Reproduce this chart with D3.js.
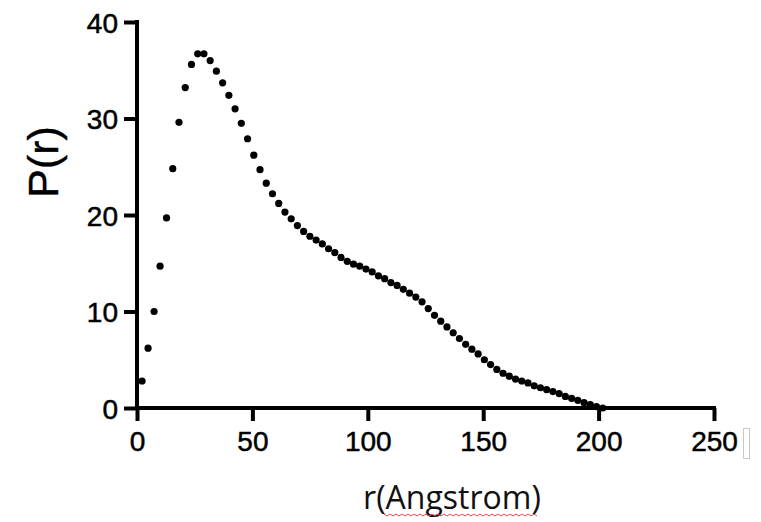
<!DOCTYPE html>
<html>
<head>
<meta charset="utf-8">
<script src="https://cdn.jsdelivr.net/npm/d3@7"></script>
<style>
  body { margin: 0; background: #fff; }
  svg { display: block; }
</style>
</head>
<body>
<div id="wrapper"></div>
<script>
// distance r (Angstrom)
const rValues = [
  2.2, 4.8, 7.4, 10.0, 12.8, 15.5, 18.2, 20.9, 23.6, 26.3,
  29.0, 31.7, 34.4, 37.1, 39.8, 42.5, 45.2, 47.9, 50.6, 53.3,
  56.0, 58.7, 61.4, 64.1, 66.8, 69.5, 72.2, 74.9, 77.6, 80.3,
  83.0, 85.7, 88.4, 91.1, 93.8, 96.5, 99.2, 101.9, 104.6, 107.3,
  110.0, 112.7, 115.4, 118.1, 120.8, 123.5, 126.2, 128.9, 131.6, 134.3,
  137.0, 139.7, 142.4, 145.1, 147.8, 150.5, 153.2, 155.9, 158.6, 161.3,
  164.0, 166.7, 169.4, 172.1, 174.8, 177.5, 180.2, 182.9, 185.6, 188.3,
  191.0, 193.7, 196.4, 199.1, 201.8,
]
// P(r) values
const pValues = [
  2.8, 6.2, 10.0, 14.7, 19.7, 24.8, 29.6, 33.2, 35.6, 36.7,
  36.7, 36.0, 34.9, 33.7, 32.4, 31.0, 29.5, 27.9, 26.2, 24.7,
  23.3, 22.2, 21.2, 20.3, 19.6, 18.9, 18.3, 17.8, 17.4, 17.0,
  16.5, 16.1, 15.6, 15.2, 14.9, 14.7, 14.4, 14.1, 13.7, 13.4,
  13.0, 12.7, 12.3, 11.9, 11.5, 11.0, 10.3, 9.6, 9.0, 8.4,
  7.8, 7.2, 6.6, 6.1, 5.6, 5.0, 4.5, 4.0, 3.6, 3.3,
  3.0, 2.8, 2.6, 2.3, 2.1, 1.9, 1.7, 1.5, 1.2, 1.0,
  0.8, 0.55, 0.35, 0.15, 0.0,
]
const xTicks = [0, 50, 100, 150, 200, 250]
const yTicks = [0, 10, 20, 30, 40]

function drawChart() {
  const dataset = rValues.map((r, i) => ({ r, p: pValues[i] }))
  const xAccessor = (d) => d.r
  const yAccessor = (d) => d.p

  let dimensions = {
    width: 761,
    height: 522,
    margin: { top: 22, right: 47, bottom: 114, left: 137 },
  }
  dimensions.boundedWidth = dimensions.width - dimensions.margin.left - dimensions.margin.right
  dimensions.boundedHeight = dimensions.height - dimensions.margin.top - dimensions.margin.bottom

  const wrapper = d3
    .select('#wrapper')
    .append('svg')
    .attr('width', dimensions.width)
    .attr('height', dimensions.height)

  wrapper.append('rect').attr('width', dimensions.width).attr('height', dimensions.height).attr('fill', '#fff')

  const bounds = wrapper
    .append('g')
    .attr('transform', `translate(${dimensions.margin.left},${dimensions.margin.top})`)

  // scales
  const xScale = d3.scaleLinear().domain([0, 250]).range([0, dimensions.boundedWidth])
  const yScale = d3.scaleLinear().domain([0, 40]).range([dimensions.boundedHeight, 0])

  // axes
  const xAxisGenerator = d3.axisBottom(xScale).tickValues(xTicks).tickSize(13).tickPadding(10)
  const yAxisGenerator = d3.axisLeft(yScale).tickValues(yTicks).tickSize(13).tickPadding(6)

  const xAxis = bounds
    .append('g')
    .attr('transform', `translate(0,${dimensions.boundedHeight})`)
    .call(xAxisGenerator)
  const yAxis = bounds.append('g').call(yAxisGenerator)

  ;[xAxis, yAxis].forEach((axis) => {
    axis.select('.domain').attr('stroke', '#000').attr('stroke-width', 4)
    axis.selectAll('.tick line').attr('stroke', '#000').attr('stroke-width', 4)
    axis
      .selectAll('.tick text')
      .attr('fill', '#000')
      .attr('stroke', '#000')
      .attr('stroke-width', 0.5)
      .style('font-family', 'Liberation Sans, Arial, sans-serif')
      .style('font-size', '28px')
  })
  // flat-ended domain lines
  xAxis.select('.domain').attr('d', `M-2,0H${dimensions.boundedWidth + 2}`)
  yAxis.select('.domain').attr('d', `M0,-2V${dimensions.boundedHeight + 2}`)
  yAxis.selectAll('.tick text').attr('dy', '0.36em')

  // data
  bounds
    .append('g')
    .selectAll('circle')
    .data(dataset)
    .join('circle')
    .attr('cx', (d) => xScale(xAccessor(d)))
    .attr('cy', (d) => yScale(yAccessor(d)))
    .attr('r', 3.6)
    .attr('fill', '#000')

  // labels
  wrapper
    .append('text')
    .attr('transform', 'translate(58,162) rotate(-90)')
    .attr('text-anchor', 'middle')
    .style('font-family', 'Liberation Sans, Arial, sans-serif')
    .style('font-size', '43px')
    .attr('fill', '#000')
    .attr('stroke', '#000')
    .attr('stroke-width', 0.4)
    .text('P(r)')

  wrapper
    .append('text')
    .attr('x', 452)
    .attr('y', 509)
    .attr('text-anchor', 'middle')
    .style('font-family', 'Open Sans, sans-serif')
    .style('font-size', '32px')
    .attr('fill', '#111')
    .text('r(Angstrom)')

  // red squiggle under "Angstrom"
  const squiggle = d3.range(384, 538, 3).map((x, i) => [x, 514 + (i % 2 ? 2 : 0)])
  wrapper
    .append('path')
    .attr('d', d3.line()(squiggle))
    .attr('fill', 'none')
    .attr('stroke', '#e0474c')
    .attr('stroke-width', 1)

  // little grey box next to 250
  wrapper
    .append('rect')
    .attr('x', 743.5)
    .attr('y', 428.5)
    .attr('width', 6)
    .attr('height', 30)
    .attr('fill', 'none')
    .attr('stroke', '#c8c8c8')
}
drawChart()
</script>
</body>
</html>
